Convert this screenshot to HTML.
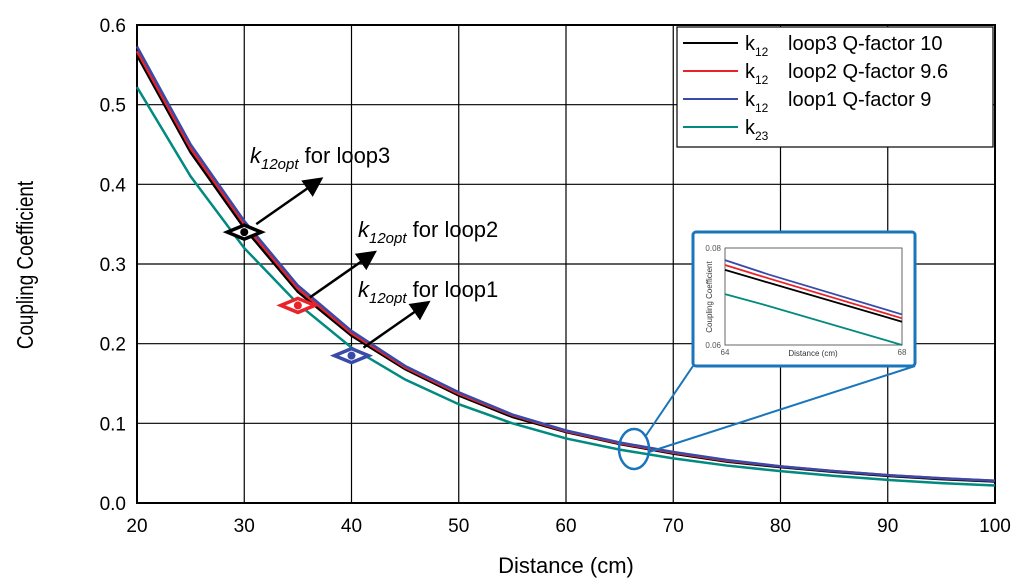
<!DOCTYPE html>
<html><head><meta charset="utf-8"><style>
body{margin:0;background:#fff;}
svg{display:block;font-family:"Liberation Sans",sans-serif;}
</style></head><body>
<svg id="chart" width="1024" height="584" viewBox="0 0 1024 584"></svg>
<script>
const distances=[20,25,30,35,40,45,50,55,60,65,70,75,80,85,90,95,100];
const loop3=[0.562,0.44,0.345,0.265,0.21,0.168,0.135,0.108,0.089,0.074,0.062,0.052,0.045,0.039,0.034,0.030,0.027];
const loop2=[0.567,0.445,0.35,0.269,0.213,0.170,0.137,0.110,0.090,0.075,0.063,0.053,0.046,0.040,0.035,0.031,0.028];
const loop1=[0.573,0.45,0.354,0.273,0.216,0.172,0.139,0.111,0.091,0.076,0.064,0.054,0.046,0.040,0.035,0.031,0.028];
const k23=[0.522,0.41,0.32,0.25,0.195,0.155,0.124,0.100,0.081,0.067,0.056,0.047,0.040,0.034,0.029,0.025,0.022];
const xTicks=[20,30,40,50,60,70,80,90,100];
const yTicks=[0,0.1,0.2,0.3,0.4,0.5,0.6];
const optX=[30,35,40];
const optY=[0.34,0.248,0.185];
const insetX=[64,65,68];
const insetLoop3=[0.0755,0.0728,0.0648];
const insetLoop2=[0.0765,0.0737,0.0655];
const insetLoop1=[0.0775,0.0745,0.0663];
const insetK23=[0.0705,0.0680,0.0600];

const NS="http://www.w3.org/2000/svg";
const svg=document.getElementById('chart');
function el(t,a,p){const e=document.createElementNS(NS,t);for(const k in a)e.setAttribute(k,a[k]);(p||svg).appendChild(e);return e;}
const X=v=>137+(v-20)*(995-137)/80;
const Y=v=>503-v*(503-25)/0.6;
const colors=['#000','#e8232a','#3a4aa8','#008a80'];

el('rect',{x:137,y:25,width:858,height:478,fill:'#fff'});
xTicks.forEach(t=>{
  const l=el('line',{x1:X(t),x2:X(t),y1:25,y2:503,stroke:'#000','stroke-width':1.2});
  
  const tx=el('text',{x:X(t),y:532,'text-anchor':'middle','font-size':19});tx.textContent=t;
  
});
yTicks.forEach(t=>{
  const l=el('line',{x1:137,x2:995,y1:Y(t),y2:Y(t),stroke:'#000','stroke-width':1.2});
  
  const tx=el('text',{x:126,y:Y(t)+7,'text-anchor':'end','font-size':19});tx.textContent=t.toFixed(1);
  
});
el('rect',{x:137,y:25,width:858,height:478,fill:'none',stroke:'#000','stroke-width':2});

const series=[k23,loop3,loop2,loop1];
const scol=[colors[3],colors[0],colors[1],colors[2]];
const snames=['k23-line','k12-loop3-line','k12-loop2-line','k12-loop1-line'];
series.forEach((s,i)=>{
  const p=el('polyline',{points:s.map((v,j)=>X(distances[j])+','+Y(v)).join(' '),fill:'none',stroke:scol[i],'stroke-width':2.5});
  
});

el('defs',{}).innerHTML='<marker id="ah" markerWidth="8" markerHeight="8" refX="6" refY="4" orient="auto" markerUnits="strokeWidth"><path d="M0,0 L8,4 L0,8 z" fill="#000"/></marker>';
const mcol=['#000','#e8232a','#3a4aa8'];
const labels=['for loop3','for loop2','for loop1'];
const lpos=[[250,163],[358,237],[358,297]];
optX.forEach((v,i)=>{
  const cx=X(v),cy=Y(optY[i]);
  const a=el('line',{x1:cx+12,x2:cx+75,y1:cy-8,y2:cy-52,stroke:'#000','stroke-width':2.5,'marker-end':'url(#ah)'});
  
  const d=el('polygon',{points:`${cx-17},${cy} ${cx},${cy-7} ${cx+17},${cy} ${cx},${cy+7}`,fill:'#fff',stroke:mcol[i],'stroke-width':3.5});
  
  el('circle',{cx:cx,cy:cy,r:4,fill:mcol[i]});
  const t=el('text',{x:lpos[i][0],y:lpos[i][1],'font-size':22});
  t.innerHTML='<tspan font-style="italic">k</tspan><tspan font-style="italic" font-size="15" dy="6">12opt</tspan><tspan dy="-6"> '+labels[i]+'</tspan>';
  
});

const lg=el('g',{});
el('rect',{x:677,y:27,width:316,height:120,fill:'#fff',stroke:'#000','stroke-width':1.2},lg);
const ltxt=['loop3 Q-factor 10','loop2 Q-factor 9.6','loop1 Q-factor 9',''];
const lsub=['12','12','12','23'];
const lc=[colors[0],colors[1],colors[2],colors[3]];
for(let i=0;i<4;i++){
  const y=43+i*28;
  el('line',{x1:683,x2:738,y1:y,y2:y,stroke:lc[i],'stroke-width':2},lg);
  const t=el('text',{x:745,y:y+7,'font-size':20},lg);
  t.innerHTML='k<tspan font-size="12" dy="6">'+lsub[i]+'</tspan><tspan dy="-6" x="788">'+ltxt[i]+'</tspan>';
  
}

el('ellipse',{cx:634,cy:449,rx:15,ry:20,fill:'none',stroke:'#1a75bb','stroke-width':2.5});
el('line',{x1:645,y1:437,x2:693,y2:366,stroke:'#1a75bb','stroke-width':2});
el('line',{x1:649,y1:452,x2:915,y2:366,stroke:'#1a75bb','stroke-width':2});
const ig=el('g',{});
el('rect',{x:693,y:232,width:222,height:134,rx:3,fill:'#fff',stroke:'#1a75bb','stroke-width':3},ig);
const IX=v=>725+(v-64)*(902-725)/4;
const IY=v=>345-(v-0.06)*(345-248)/0.02;
el('rect',{x:725,y:248,width:177,height:97,fill:'none',stroke:'#666','stroke-width':1},ig);
[insetK23,insetLoop3,insetLoop2,insetLoop1].forEach((s,i)=>{
  el('polyline',{points:s.map((v,j)=>IX(insetX[j])+','+IY(v)).join(' '),fill:'none',stroke:scol[i],'stroke-width':1.8},ig);
});
[[0.08,'0.08'],[0.06,'0.06']].forEach(t=>{const tx=el('text',{x:721,y:IY(t[0])+3,'text-anchor':'end','font-size':8,fill:'#555'},ig);tx.textContent=t[1];});
[[64,'64'],[68,'68']].forEach(t=>{const tx=el('text',{x:IX(t[0]),y:355,'text-anchor':'middle','font-size':8,fill:'#555'},ig);tx.textContent=t[1];});
let it=el('text',{x:813,y:356,'text-anchor':'middle','font-size':8,fill:'#333'},ig);it.textContent='Distance (cm)';
it=el('text',{x:0,y:0,'text-anchor':'middle','font-size':8,fill:'#333',transform:'translate(712,297) rotate(-90)'},ig);it.textContent='Coupling Coefficient';

let at=el('text',{x:566,y:573,'text-anchor':'middle','font-size':22});at.textContent='Distance (cm)';

at=el('text',{x:0,y:0,'text-anchor':'middle','font-size':23,transform:'translate(33,265) rotate(-90) scale(0.82,1)'});at.textContent='Coupling Coefficient';

</script>
</body></html>
